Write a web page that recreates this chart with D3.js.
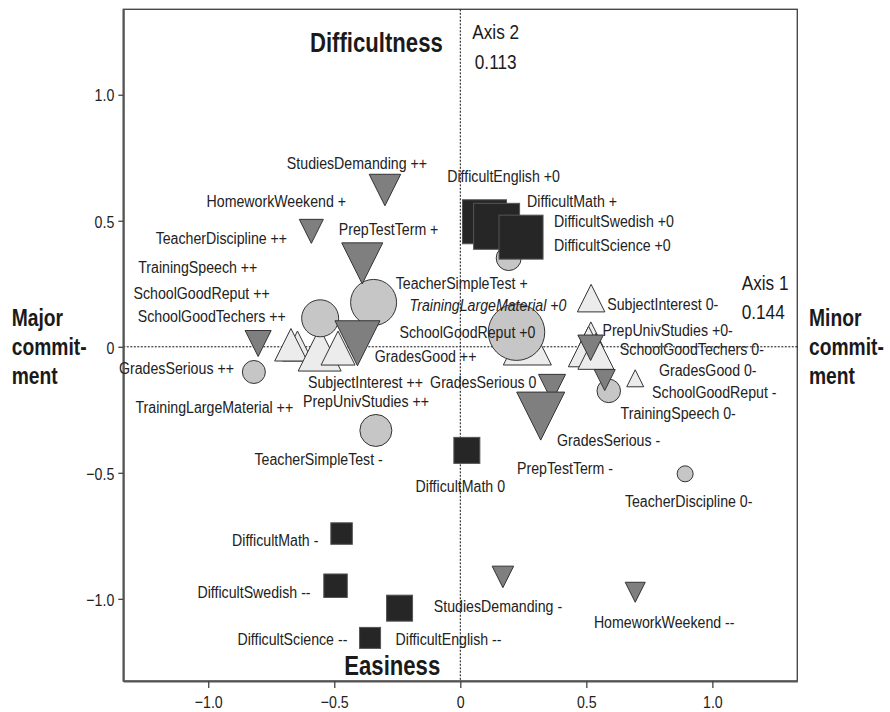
<!DOCTYPE html>
<html><head><meta charset="utf-8">
<script src="https://cdn.jsdelivr.net/npm/d3@7"></script>
<style>body{margin:0;background:#fff} svg{display:block}</style>
</head><body><svg id="c" width="890" height="712"></svg>
<script>
// ---------- data ----------
const xTicks = [-1, -0.5, 0, 0.5, 1];
const yTicks = [-1, -0.5, 0, 0.5, 1];
const axis1 = ["Axis 1", "0.144"];
const axis2 = ["Axis 2", "0.113"];
const poleTop = "Difficultness";
const poleBottom = "Easiness";
const poleLeft = ["Major", "commit-", "ment"];
const poleRight = ["Minor", "commit-", "ment"];

// [name, axis1, axis2, mass]
const upTriangles = [
  ["SchoolGoodTechers ++", -0.646, 0.003, 0.60],
  ["TrainingSpeech ++", -0.672, 0.008, 0.65],
  ["SubjectInterest ++", -0.558, -0.011, 0.86],
  ["PrepUnivStudies ++", -0.485, -0.005, 0.68],
  ["GradesGood ++", 0.266, 0.023, 0.96],
  ["SubjectInterest 0-", 0.519, 0.193, 0.55],
  ["PrepUnivStudies +0-", 0.518, 0.051, 0.48],
  ["SchoolGoodTechers 0-", 0.509, 0.001, 0.81],
  ["TrainingSpeech 0-", 0.538, -0.018, 0.72],
  ["GradesGood 0-", 0.694, -0.125, 0.34]
];
const circles = [
  ["TeacherSimpleTest +", -0.344, 0.176, 0.92],
  ["SchoolGoodReput ++", -0.556, 0.113, 0.74],
  ["GradesSerious ++", -0.819, -0.100, 0.46],
  ["TeacherSimpleTest -", -0.335, -0.332, 0.64],
  ["SchoolGoodReput +0", 0.223, 0.058, 1.13],
  ["TrainingLargeMaterial +0", 0.192, 0.352, 0.50],
  ["SchoolGoodReput -", 0.589, -0.175, 0.47],
  ["TeacherDiscipline 0-", 0.892, -0.504, 0.32]
];
const downTriangles = [
  ["StudiesDemanding ++", -0.299, 0.622, 0.63],
  ["HomeworkWeekend +", -0.591, 0.458, 0.48],
  ["PrepTestTerm +", -0.389, 0.331, 0.82],
  ["TeacherDiscipline ++", -0.802, 0.013, 0.52],
  ["TrainingLargeMaterial ++", -0.408, 0.014, 0.90],
  ["GradesSerious 0", 0.364, -0.163, 0.54],
  ["PrepTestTerm -", 0.319, -0.275, 0.96],
  ["GradesSerious -", 0.517, -0.004, 0.51],
  ["TrainingSpeech 0- (b)", 0.573, -0.132, 0.42],
  ["StudiesDemanding -", 0.169, -0.913, 0.43],
  ["HomeworkWeekend --", 0.694, -0.974, 0.40]
];
const squares = [
  ["DifficultScience +0", 0.137, 0.463, 0.60],
  ["DifficultEnglish +0", 0.096, 0.496, 0.88],
  ["DifficultMath +", 0.144, 0.478, 0.92],
  ["DifficultSwedish +0", 0.241, 0.435, 0.88],
  ["DifficultMath 0", 0.026, -0.411, 0.52],
  ["DifficultMath -", -0.471, -0.741, 0.43],
  ["DifficultSwedish --", -0.495, -0.948, 0.47],
  ["DifficultEnglish --", -0.241, -1.037, 0.52],
  ["DifficultScience --", -0.358, -1.155, 0.42]
];
// [text, axis1, axis2, anchor, italic]
const labels = [
  ["StudiesDemanding ++", -0.410, 0.732, "middle", 0],
  ["HomeworkWeekend +", -0.730, 0.579, "middle", 0],
  ["PrepTestTerm +", -0.482, 0.470, "start", 0],
  ["TeacherDiscipline ++", -0.687, 0.431, "end", 0],
  ["TrainingSpeech ++", -0.805, 0.318, "end", 0],
  ["SchoolGoodReput ++", -0.756, 0.216, "end", 0],
  ["SchoolGoodTechers ++", -0.692, 0.122, "end", 0],
  ["GradesSerious ++", -0.898, -0.083, "end", 0],
  ["TrainingLargeMaterial ++", -0.663, -0.238, "end", 0],
  ["SubjectInterest ++", -0.604, -0.138, "start", 0],
  ["GradesSerious 0", 0.302, -0.138, "end", 0],
  ["PrepUnivStudies ++", -0.624, -0.214, "start", 0],
  ["GradesGood ++", 0.064, -0.037, "end", 0],
  ["TeacherSimpleTest +", -0.256, 0.252, "start", 0],
  ["TrainingLargeMaterial +0", 0.421, 0.166, "end", 1],
  ["SchoolGoodReput +0", 0.298, 0.060, "end", 0],
  ["TeacherSimpleTest -", -0.562, -0.446, "middle", 0],
  ["DifficultMath 0", 0.000, -0.552, "middle", 0],
  ["DifficultEnglish +0", -0.052, 0.678, "start", 0],
  ["DifficultMath +", 0.265, 0.579, "start", 0],
  ["DifficultSwedish +0", 0.372, 0.499, "start", 0],
  ["DifficultScience +0", 0.372, 0.404, "start", 0],
  ["SubjectInterest 0-", 0.583, 0.170, "start", 0],
  ["PrepUnivStudies +0-", 0.564, 0.067, "start", 0],
  ["SchoolGoodTechers 0-", 0.633, -0.006, "start", 0],
  ["GradesGood 0-", 0.788, -0.092, "start", 0],
  ["SchoolGoodReput -", 0.761, -0.178, "start", 0],
  ["TrainingSpeech 0-", 0.636, -0.262, "start", 0],
  ["GradesSerious -", 0.384, -0.370, "start", 0],
  ["PrepTestTerm -", 0.225, -0.482, "start", 0],
  ["TeacherDiscipline 0-", 0.653, -0.611, "start", 0],
  ["DifficultMath -", -0.563, -0.767, "end", 0],
  ["DifficultSwedish --", -0.594, -0.972, "end", 0],
  ["DifficultScience --", -0.448, -1.160, "end", 0],
  ["DifficultEnglish --", -0.257, -1.160, "start", 0],
  ["StudiesDemanding -", 0.404, -1.027, "end", 0],
  ["HomeworkWeekend --", 0.530, -1.091, "start", 0]
];

// ---------- drawing ----------
const FONT = "'Liberation Sans', Arial, Helvetica, sans-serif";
const NARROW = 0.82;
const svg = d3.select("#c");
const x = d3.scaleLinear().domain([-1.337, 1.337]).range([123.3, 797.3]);
const y = d3.scaleLinear().domain([-1.326, 1.339]).range([681, 9.3]);
const size = d3.scaleLinear().domain([0, 1]).range([0, 50]);

// horizontally condense a text around its anchor x (narrow face emulation)
function narrow(sel, f) {
  sel.each(function () {
    const ax = +this.getAttribute("x") || 0;
    const prev = this.getAttribute("transform") || "";
    this.setAttribute("transform", `${prev} translate(${ax},0) scale(${f},1) translate(${-ax},0)`);
  });
}

// frame
const [x0, x1] = x.range(), [y0, y1] = y.range();
svg.append("rect").attr("x", x0).attr("y", y1).attr("width", x1 - x0).attr("height", y0 - y1)
  .attr("fill", "none").attr("stroke", "#4a4a4a").attr("stroke-width", 1.4);

// reference lines
svg.append("line").attr("x1", x(0)).attr("x2", x(0)).attr("y1", y1).attr("y2", y0)
  .attr("stroke", "#111").attr("stroke-width", 1).attr("stroke-dasharray", "2,1.5");
svg.append("line").attr("x1", x0).attr("x2", x1).attr("y1", y(0)).attr("y2", y(0))
  .attr("stroke", "#111").attr("stroke-width", 1).attr("stroke-dasharray", "2,1.5");

// axes
const fmt = v => v === 0 ? "0" : d3.format(".1f")(v);
const gx = svg.append("g").attr("transform", `translate(0,${y0})`)
  .call(d3.axisBottom(x).tickValues(xTicks).tickFormat(fmt).tickSize(7).tickSizeOuter(0));
const gy = svg.append("g").attr("transform", `translate(${x0},0)`)
  .call(d3.axisLeft(y).tickValues(yTicks).tickFormat(fmt).tickSize(5).tickSizeOuter(0));
[gx, gy].forEach(g => {
  g.select(".domain").attr("stroke", "#555").attr("stroke-width", 2);
  g.selectAll(".tick line").attr("stroke", "#444").attr("stroke-width", 1.3);
  g.selectAll(".tick text").attr("font-family", FONT).attr("font-size", 17.3).attr("fill", "#222");
});
gx.selectAll(".tick text").attr("y", 27).attr("dy", 0).attr("x", 0);
gy.selectAll(".tick text").attr("x", -9).attr("dy", "0.36em");
narrow(gx.selectAll(".tick text"), NARROW);
narrow(gy.selectAll(".tick text"), NARROW);

// markers
const mk = svg.append("g").attr("stroke", "#333").attr("stroke-width", 1);
mk.selectAll("path.up").data(upTriangles).join("path").attr("class", "up")
  .attr("fill", "#ececec")
  .attr("d", d => { const cx = x(d[1]), cy = y(d[2]), h = size(d[3]) / 2;
    return `M${cx},${cy - h}L${cx + h},${cy + h}L${cx - h},${cy + h}Z`; });
mk.selectAll("circle").data(circles).join("circle")
  .attr("fill", "#c6c6c6")
  .attr("cx", d => x(d[1])).attr("cy", d => y(d[2])).attr("r", d => size(d[3]) / 2);
mk.selectAll("path.down").data(downTriangles).join("path").attr("class", "down")
  .attr("fill", "#7f7f7f")
  .attr("d", d => { const cx = x(d[1]), cy = y(d[2]), h = size(d[3]) / 2;
    return `M${cx - h},${cy - h}L${cx + h},${cy - h}L${cx},${cy + h}Z`; });
mk.selectAll("rect").data(squares).join("rect")
  .attr("fill", "#262626").attr("stroke", "#555")
  .attr("x", d => x(d[1]) - size(d[3]) / 2).attr("y", d => y(d[2]) - size(d[3]) / 2)
  .attr("width", d => size(d[3])).attr("height", d => size(d[3]));

// point labels
const lt = svg.append("g").selectAll("text").data(labels).join("text")
  .attr("x", d => x(d[1])).attr("y", d => y(d[2])).attr("dy", "0.36em")
  .attr("text-anchor", d => d[3]).attr("font-style", d => d[4] ? "italic" : "normal")
  .attr("font-family", FONT).attr("font-size", 17.3).attr("fill", "#222")
  .text(d => d[0]);
narrow(lt, NARROW);

// axis inertia labels
function txt(s, px, py, fs, weight, anchor) {
  const t = svg.append("text").attr("x", px).attr("y", py).attr("dy", "0.36em")
    .attr("font-family", FONT).attr("font-size", fs).attr("font-weight", weight || "normal")
    .attr("text-anchor", anchor || "start").attr("fill", "#1a1a1a").text(s);
  narrow(t, NARROW);
  return t;
}
txt(axis2[0], x(0) + 12, 31, 21);
txt(axis2[1], x(0) + 14.5, 61, 21);
txt(axis1[0], 741.7, 282.7, 21);
txt(axis1[1], 741.7, 311, 21);

// pole labels
txt(poleTop, 310, 42.3, 27, "bold");
txt(poleBottom, 344.3, 665.7, 27, "bold");
poleLeft.forEach((s, i) => txt(s, 11.7, 317.3 + i * 29.2, 23.5, "bold"));
poleRight.forEach((s, i) => txt(s, 809, 317.3 + i * 29.2, 23.5, "bold"));
</script>
</body></html>
